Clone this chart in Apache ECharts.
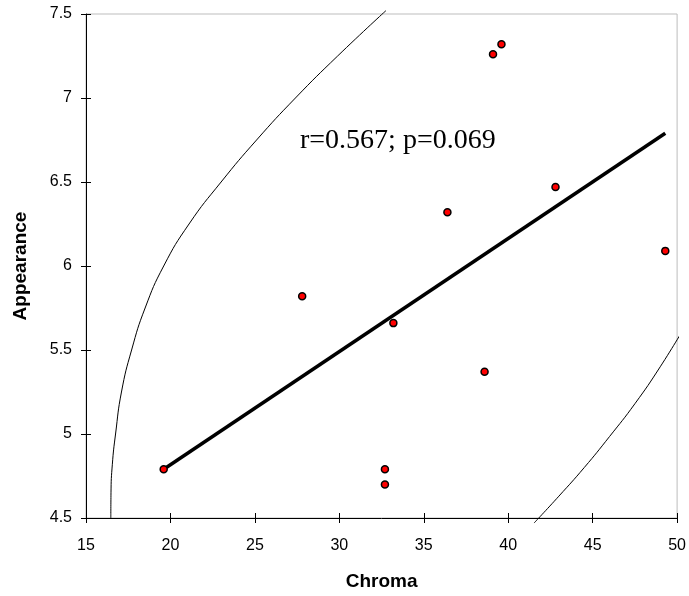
<!DOCTYPE html>
<html>
<head>
<meta charset="utf-8">
<script src="https://cdn.jsdelivr.net/npm/echarts@6/dist/echarts.min.js"></script>
<style>html,body{margin:0;padding:0;background:#fff;}#c{width:689px;height:596px;}</style>
</head>
<body>
<div id="c"></div>
<script>
// Observations (Chroma, Appearance)
const chroma     = [19.6, 27.8, 33.2, 36.4, 38.6, 39.6, 39.1, 42.8, 32.7, 32.7, 49.3];
const appearance = [4.79, 5.82, 5.66, 6.32, 5.37, 7.32, 7.26, 6.47, 4.79, 4.70, 6.09];
// Regression line endpoints
const fitX = [19.6, 49.3];
const fitY = [4.79, 6.79];
// Left confidence curve
const leftCurveX = [16.47, 16.48, 16.56, 16.75, 17.1, 17.7, 18.5, 19.6, 21.1, 23.0, 25.1, 27.4, 29.9, 32.76];
const leftCurveY = [4.50, 4.65, 4.82, 5.00, 5.25, 5.50, 5.75, 6.00, 6.25, 6.50, 6.75, 7.00, 7.25, 7.52];
// Right confidence curve
const rightCurveX = [41.53, 43.0, 44.5, 46.0, 47.5, 49.0, 50.47];
const rightCurveY = [4.47, 4.63, 4.80, 4.985, 5.18, 5.40, 5.64];
const annotation = 'r=0.567; p=0.069';

const zip = (a, b) => a.map((v, i) => [v, b[i]]);
const chart = echarts.init(document.getElementById('c'));
const labelFont = {fontFamily: 'Liberation Sans, Arial, sans-serif', fontSize: 16, color: '#000'};
const titleFont = {fontFamily: 'Liberation Sans, Arial, sans-serif', fontSize: 19, fontWeight: 'bold', color: '#000'};
chart.setOption({
  animation: false,
  grid: {left: 86, right: 7, top: 14, bottom: 77, show: true, borderColor: '#bdbdbd', borderWidth: 1},
  xAxis: [{
    type: 'value', min: 15, max: 50, interval: 5,
    name: 'Chroma', nameLocation: 'middle', nameGap: 54,
    nameTextStyle: titleFont,
    axisLine: {show: true, lineStyle: {color: '#000', width: 1}},
    axisTick: {show: true, length: 5, lineStyle: {color: '#000'}},
    axisLabel: Object.assign({margin: 20}, labelFont),
    splitLine: {show: false}
  }, {
    type: 'value', min: 15, max: 50, interval: 5, position: 'bottom',
    axisLine: {show: false}, axisTick: {show: true, inside: true, length: 5, lineStyle: {color: '#000'}},
    axisLabel: {show: false}, splitLine: {show: false}
  }],
  yAxis: [{
    type: 'value', min: 4.5, max: 7.5, interval: 0.5,
    name: 'Appearance', nameLocation: 'middle', nameGap: 56, nameRotate: 90,
    nameTextStyle: titleFont,
    axisLine: {show: true, lineStyle: {color: '#000', width: 1}},
    axisTick: {show: true, length: 5, lineStyle: {color: '#000'}},
    axisLabel: Object.assign({margin: 14, formatter: v => String(v)}, labelFont),
    splitLine: {show: false}
  }, {
    type: 'value', min: 4.5, max: 7.5, interval: 0.5, position: 'left',
    axisLine: {show: false}, axisTick: {show: true, inside: true, length: 5, lineStyle: {color: '#000'}},
    axisLabel: {show: false}, splitLine: {show: false}
  }],
  series: [
    {type: 'line', data: zip(leftCurveX, leftCurveY), smooth: true, symbol: 'none', clip: false,
     lineStyle: {color: '#000', width: 1}, z: 2},
    {type: 'line', data: zip(rightCurveX, rightCurveY), smooth: true, symbol: 'none', clip: false,
     lineStyle: {color: '#000', width: 1}, z: 2},
    {type: 'line', data: zip(fitX, fitY), symbol: 'none',
     lineStyle: {color: '#000', width: 3.5}, z: 3},
    {type: 'scatter', data: zip(chroma, appearance), symbol: 'circle', symbolSize: 7,
     itemStyle: {color: '#ff0000', borderColor: '#000', borderWidth: 1.5, opacity: 1}, z: 4}
  ],
  graphic: [{
    type: 'text', left: 300, top: 127, z: 10,
    style: {text: annotation, font: '28px "Liberation Serif", "Times New Roman", serif', fill: '#000'}
  }]
});
</script>
</body>
</html>
